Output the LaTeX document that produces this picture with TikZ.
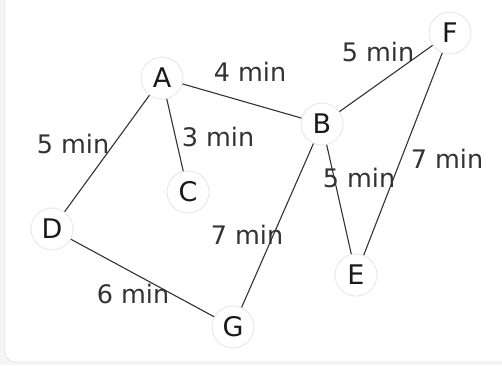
\documentclass[tikz,border=0pt]{standalone}
\usepackage{fontspec}
\setmainfont{DejaVu Sans}
\begin{document}
\begin{tikzpicture}[x=1pt,y=-1pt,
  vertex/.style={circle,draw=black!10,fill=white,line width=0.8pt,minimum size=42pt,inner sep=0pt,font=\fontsize{27}{27}\selectfont,text=black!90},
  edgelab/.style={inner sep=0pt,font=\fontsize{25.5}{25.5}\selectfont,text=black!80},
  link/.style={draw=black!80,line width=1.1pt}]
\useasboundingbox (0,0) rectangle (502,365);
\fill[black!4] (0,0) rectangle (502,365);
\fill[white,draw=black!10,line width=0.8pt,rounded corners=10pt] (5,-20) rectangle (520,362);
\node[vertex] (A) at (162,78) {A};
\node[vertex] (B) at (322,124) {B};
\node[vertex] (C) at (188,192) {C};
\node[vertex] (D) at (52,229) {D};
\node[vertex] (E) at (356,275) {E};
\node[vertex] (F) at (450,33) {F};
\node[vertex] (G) at (233,327) {G};
\draw[link] (A) -- (B);
\draw[link] (A) -- (D);
\draw[link] (A) -- (C);
\draw[link] (B) -- (F);
\draw[link] (B) -- (E);
\draw[link] (B) -- (G);
\draw[link] (F) -- (E);
\draw[link] (D) -- (G);
\node[edgelab] (lAB) at (250,72) {4 min};
\node[edgelab] (lAD) at (73,144) {5 min};
\node[edgelab] (lAC) at (218,137) {3 min};
\node[edgelab] (lBF) at (378,52) {5 min};
\node[edgelab] (lFE) at (447,159) {7 min};
\node[edgelab] (lBE) at (359,178) {5 min};
\node[edgelab] (lBG) at (247,235) {7 min};
\node[edgelab] (lDG) at (133,294) {6 min};
\end{tikzpicture}
\end{document}
